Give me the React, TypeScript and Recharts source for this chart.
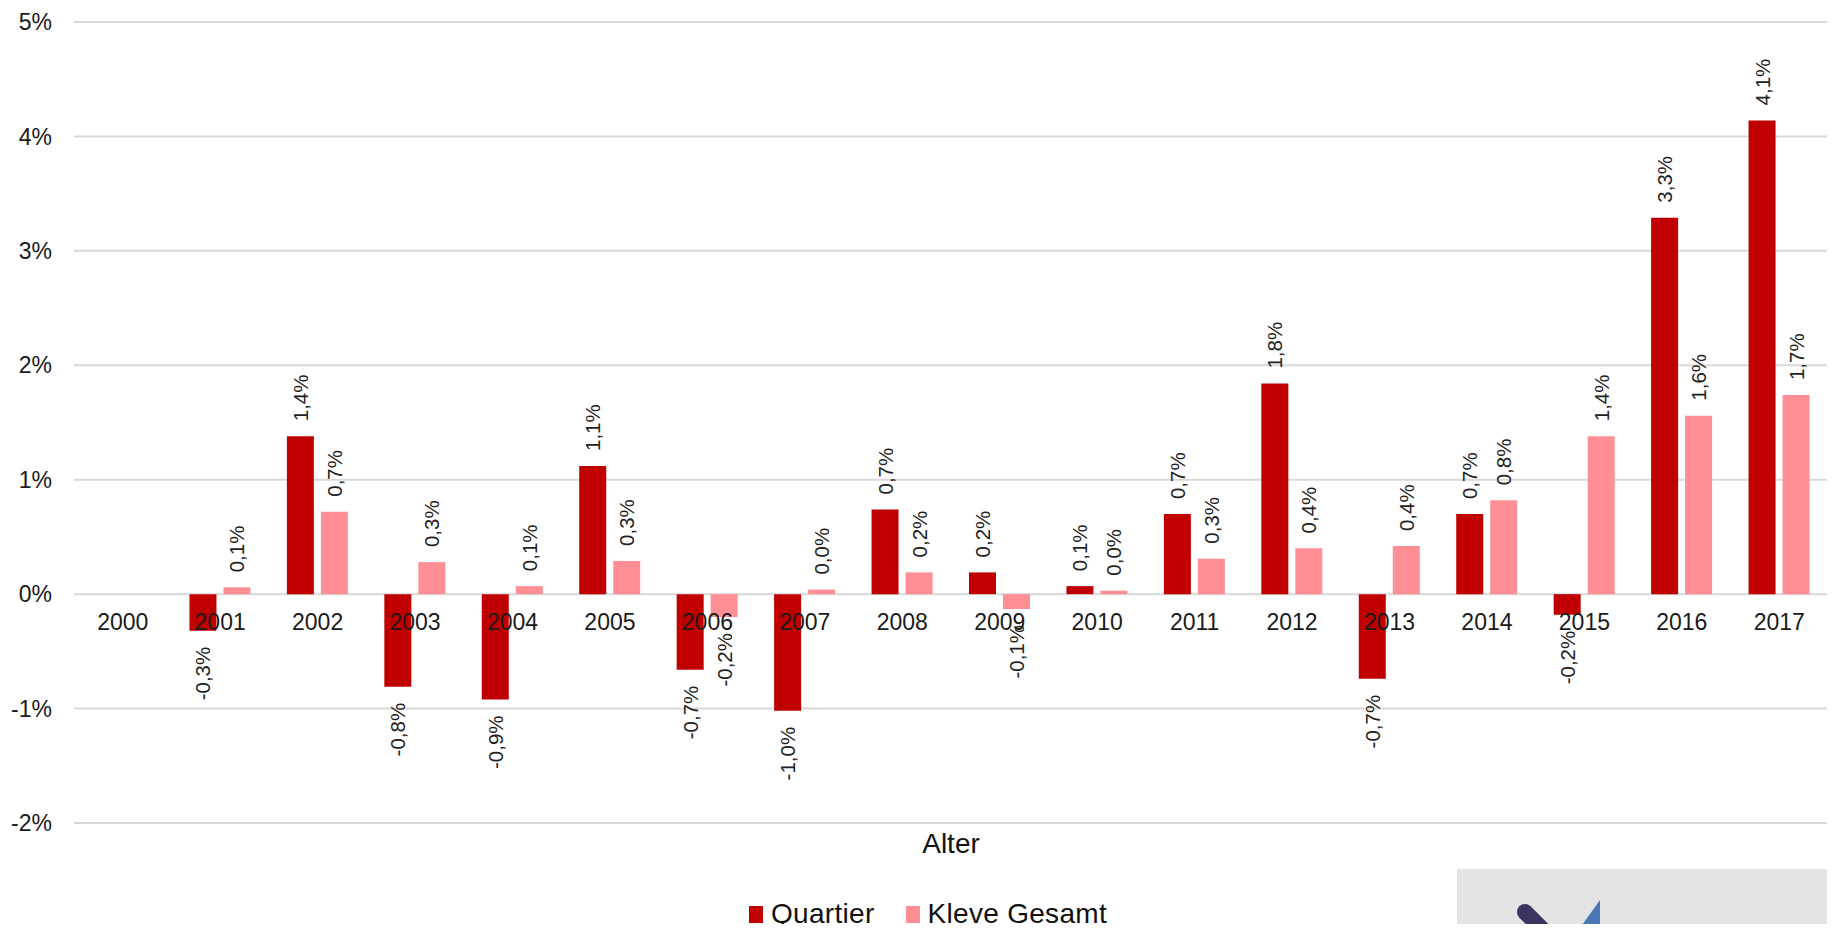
import React from 'react'
import { BarChart, Bar, XAxis, YAxis, CartesianGrid, Legend, LabelList } from 'recharts'

const YEARS = ['2000', '2001', '2002', '2003', '2004', '2005', '2006', '2007', '2008', '2009', '2010', '2011', '2012', '2013', '2014', '2015', '2016', '2017']
const QUARTIER = [null, -0.32, 1.38, -0.81, -0.92, 1.12, -0.66, -1.02, 0.74, 0.19, 0.07, 0.7, 1.84, -0.74, 0.7, -0.18, 3.29, 4.14]
const KLEVE = [null, 0.06, 0.72, 0.28, 0.07, 0.29, -0.2, 0.04, 0.19, -0.13, 0.03, 0.31, 0.4, 0.42, 0.82, 1.38, 1.56, 1.74]
const Y_TICKS = [-2, -1, 0, 1, 2, 3, 4, 5]

const W = 1835
const H = 932
const MARGIN = { top: 22, right: 7, bottom: 69, left: 0 }
const X_AXIS_H = 40
const PLOT_H = H - MARGIN.top - MARGIN.bottom - X_AXIS_H
const Y_MIN = -2
const Y_MAX = 5

const DARK = '#C00000'
const PINK = '#FF8F94'
const FONT = '"Liberation Sans", Arial, Helvetica, sans-serif'

const data = YEARS.map((year, i) => ({ year, quartier: QUARTIER[i], kleve: KLEVE[i] }))

const fmt = (v: number) => v.toFixed(1).replace('.', ',') + '%'

// rotated value label: above positive bars, below negative ones, always reading upward
function ValueLabel(props: any) {
  const { x, y, width, height, value } = props
  if (value === null || value === undefined) return null
  const cx = x + width / 2
  const top = Math.min(y, y + height)
  const bottom = Math.max(y, y + height)
  const neg = value < 0
  const ay = neg ? bottom + 16 : top - 15
  return (
    <text
      x={cx}
      y={ay}
      transform={`rotate(-90, ${cx}, ${ay})`}
      textAnchor={neg ? 'end' : 'start'}
      dominantBaseline="central"
      fontSize={20.5}
      fontFamily={FONT}
      fill="#222"
    >
      {fmt(value)}
    </text>
  )
}

// category labels sit on the zero line, not at the bottom of the plot
function YearTick(props: any) {
  const { x, payload } = props
  const zeroY = MARGIN.top + (PLOT_H * Y_MAX) / (Y_MAX - Y_MIN)
  return (
    <text x={x} y={zeroY + 36} textAnchor="middle" fontSize={23} fontFamily={FONT} fill="#1a1a1a">
      {payload.value}
    </text>
  )
}

function LegendContent() {
  const items = [
    { name: 'Quartier', color: DARK },
    { name: 'Kleve Gesamt', color: PINK },
  ]
  return (
    <div style={{ display: 'flex', alignItems: 'center', height: 32, fontFamily: FONT, fontSize: 28, color: '#111', letterSpacing: 0.3, whiteSpace: 'nowrap' }}>
      {items.map((it, i) => (
        <div key={it.name} style={{ display: 'flex', alignItems: 'center', marginRight: i === 0 ? 31 : 0 }}>
          <span style={{ display: 'inline-block', width: 14, height: 17, background: it.color, marginRight: 8 }} />
          <span>{it.name}</span>
        </div>
      ))}
    </div>
  )
}

export default function App() {
  return (
    <div style={{ position: 'relative', width: W, height: H, margin: -8, background: '#fff', overflow: 'hidden' }}>
      <div style={{ position: 'absolute', left: 0, top: 0, width: 7, height: H, background: 'linear-gradient(to right, #dedede, #f3f3f3)' }} />
      <BarChart width={W} height={H} data={data} margin={MARGIN} barSize={27} barGap={7}>
        <CartesianGrid vertical={false} stroke="#D9D9D9" strokeWidth={2} />
        <XAxis
          dataKey="year"
          height={X_AXIS_H}
          axisLine={false}
          tickLine={false}
          tick={<YearTick />}
          interval={0}
          label={{ value: 'Alter', position: 'insideBottom', offset: 10, fontSize: 28, fontFamily: FONT, fill: '#111' }}
        />
        <YAxis
          width={74}
          domain={[Y_MIN, Y_MAX]}
          ticks={Y_TICKS}
          axisLine={false}
          tickLine={false}
          tickMargin={16}
          tickFormatter={(v: number) => `${v}%`}
          tick={{ fontSize: 23, fontFamily: FONT, fill: '#1a1a1a' }}
        />
        <Legend
          verticalAlign="middle"
          align="center"
          layout="horizontal"
          content={<LegendContent />}
          wrapperStyle={{ left: 749, top: 898, width: 420, height: 32 }}
        />
        <Bar dataKey="quartier" name="Quartier" fill={DARK} isAnimationActive={false}>
          <LabelList dataKey="quartier" content={<ValueLabel />} />
        </Bar>
        <Bar dataKey="kleve" name="Kleve Gesamt" fill={PINK} isAnimationActive={false}>
          <LabelList dataKey="kleve" content={<ValueLabel />} />
        </Bar>
      </BarChart>
      <div style={{ position: 'absolute', left: 1457, top: 869, width: W - 1457, height: H - 869, background: '#E4E4E4' }}>
        <svg width={W - 1457} height={H - 869}>
          <line x1={68} y1={43} x2={100} y2={75} stroke="#3A3560" strokeWidth={16} strokeLinecap="round" />
          <polygon points="143,31 120,63 143,63" fill="#4A78B5" />
        </svg>
      </div>
    </div>
  )
}
